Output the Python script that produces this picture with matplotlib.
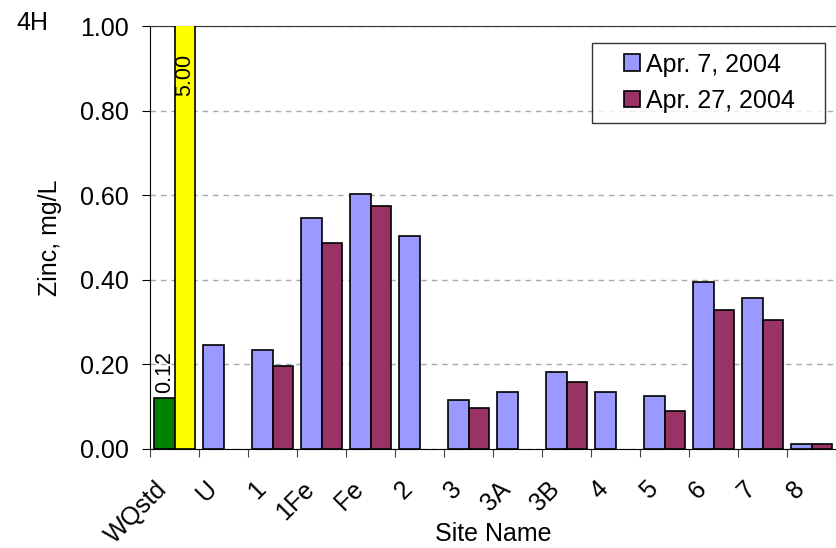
import numpy as np
import matplotlib
matplotlib.use("Agg")
import matplotlib.pyplot as plt
import matplotlib.patches as mpatches
from matplotlib.container import BarContainer
from matplotlib.legend_handler import HandlerPatch, update_from_first_child

plt.rcParams['font.family'] = ['Liberation Sans', 'DejaVu Sans']

sites = ['WQstd', 'U', '1', '1Fe', 'Fe', '2', '3', '3A', '3B', '4', '5', '6', '7', '8']
apr7 = [np.nan, 0.245, 0.235, 0.545, 0.602, 0.503, 0.116, 0.135, 0.182,
        0.135, 0.125, 0.395, 0.357, 0.013]
apr27 = [np.nan, np.nan, 0.197, 0.488, 0.574, np.nan, 0.097, np.nan, 0.158,
         np.nan, 0.089, 0.329, 0.305, 0.013]
# water quality standards shown in the first slot
wq_low = 0.12
wq_high = 5.00

fs = 18
bw = 0.41
edge = dict(edgecolor='black', linewidth=1.2)


def square_handle(legend, orig_handle, xdescent, ydescent, width, height, fontsize):
    # small square pushed to the right end of the handle box
    s = height
    return mpatches.Rectangle((width - xdescent - s, -ydescent), s, s)


fig = plt.figure(figsize=(8.36, 5.48), dpi=100)
ax = fig.add_axes([150 / 836, 99 / 548, 686 / 836, 423 / 548])

x = np.arange(len(sites)) + 0.5
ax.bar(x - bw, apr7, bw, align='edge', color='#9999FF', label='Apr. 7, 2004', zorder=3, **edge)
ax.bar(x, apr27, bw, align='edge', color='#993366', label='Apr. 27, 2004', zorder=3, **edge)

# standards bars
ax.bar(x[0] - bw, wq_low, bw, align='edge', color='#008000', zorder=3, **edge)
ax.bar(x[0], wq_high, bw, align='edge', color='#FFFF00', zorder=3, **edge)
ax.annotate('%.2f' % wq_low, (x[0] - bw / 2, wq_low), xytext=(0, 4),
            textcoords='offset points', rotation=90, ha='center', va='bottom',
            fontsize=fs - 2.5)
ax.text(x[0] + bw / 2, 0.935, '%.2f' % wq_high, rotation=90, ha='center',
        va='top', fontsize=fs - 2.5)

ax.set_xlim(0, len(sites))
ax.set_ylim(0, 1.0)
yt = np.arange(0, 1.01, 0.2)
ax.set_yticks(yt)
ax.set_yticklabels(['%.2f' % v for v in yt], fontsize=fs)
ax.set_xticks(np.arange(len(sites) + 1))
ax.set_xticklabels([])
ax.tick_params(axis='x', length=6, color='#444444', direction='out')
ax.tick_params(axis='y', length=6, pad=9.5, direction='out')

# rotated site names under each category
for xi, name in zip(x, sites):
    ax.annotate(name, (xi, 0), xycoords=('data', 'axes fraction'),
                xytext=(-14, -20), textcoords='offset points', rotation=45,
                ha='right', va='top', rotation_mode='anchor', fontsize=fs)

ax.yaxis.grid(True, linestyle=(0, (4, 3.5)), color='#aaaaaa', linewidth=1.0, zorder=0)
ax.set_axisbelow(True)
ax.spines['right'].set_visible(False)
ax.spines['top'].set_color('#333333')

ax.set_ylabel('Zinc, mg/L', fontsize=fs)
ax.yaxis.set_label_coords(-0.128, 0.5)
ax.set_xlabel('Site Name', fontsize=fs)
ax.xaxis.set_label_coords(0.5, -0.172)

sq = HandlerPatch(patch_func=square_handle, update_func=update_from_first_child)
leg = ax.legend(loc='upper left', bbox_to_anchor=(0.6443, 0, 0.3397, 0.9598),
                mode='expand', borderaxespad=0, fontsize=fs, frameon=True,
                fancybox=False, handlelength=1.55, handleheight=0.64,
                handletextpad=0.25, borderpad=0.38, labelspacing=0.5,
                handler_map={BarContainer: sq})
leg.get_frame().set_edgecolor('black')
leg.get_frame().set_linewidth(1.0)

fig.text(16 / 836, 1 - 30 / 548, '4H', fontsize=18, va='baseline', ha='left')

fig.savefig('out.png', dpi=100)
